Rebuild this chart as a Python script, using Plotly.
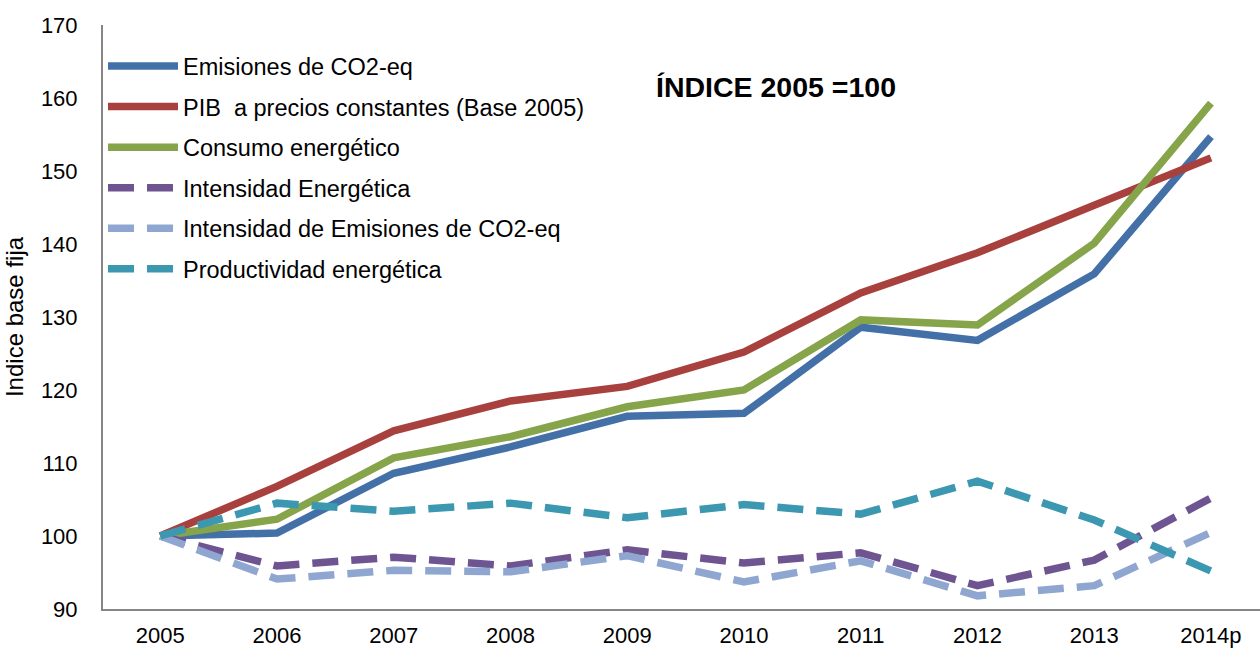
import plotly.graph_objects as go

years = ["2005", "2006", "2007", "2008", "2009", "2010", "2011", "2012", "2013", "2014p"]

emisiones = [100, 100.4, 108.6, 112.2, 116.4, 116.8, 128.6, 126.8, 135.9, 154.7]
pib = [100, 106.8, 114.4, 118.5, 120.5, 125.2, 133.3, 138.8, 145.3, 151.8]
consumo = [100, 102.3, 110.7, 113.6, 117.7, 120.0, 129.6, 128.9, 140.1, 159.3]
intensidad_energetica = [100, 95.9, 97.1, 95.9, 98.1, 96.3, 97.7, 93.2, 96.7, 105.2]
intensidad_emisiones = [100, 94.1, 95.3, 95.1, 97.3, 93.7, 96.6, 91.8, 93.2, 100.5]
productividad = [100, 104.5, 103.4, 104.5, 102.5, 104.3, 103.0, 107.5, 102.2, 95.2]

series = [
    ("Emisiones de CO2-eq", emisiones, "#4470A8", "solid"),
    ("PIB  a precios constantes (Base 2005)", pib, "#A8413E", "solid"),
    ("Consumo energético", consumo, "#86A44A", "solid"),
    ("Intensidad Energética", intensidad_energetica, "#6E5591", "26px,13px"),
    ("Intensidad de Emisiones de CO2-eq", intensidad_emisiones, "#8FA7D0", "26px,13px"),
    ("Productividad energética", productividad, "#3C97B0", "26px,13px"),
]

fig = go.Figure()
for i, (name, vals, color, dash) in enumerate(series):
    fig.add_trace(go.Scatter(
        x=years, y=vals, name=name, mode="lines", legendgroup=str(i),
        line=dict(color=color, width=7.5, dash=dash),
    ))

fig.update_layout(
    width=1260, height=650,
    margin=dict(l=103, r=0, t=25, b=41),
    plot_bgcolor="white", paper_bgcolor="white",
    font=dict(family="Liberation Sans, Arial, sans-serif", size=22, color="black"),
    showlegend=True,
    legend=dict(
        x=0.0, y=0.967, xanchor="left", yanchor="top",
        font=dict(size=23.5), bgcolor="rgba(0,0,0,0)",
        tracegroupgap=7, itemwidth=70,
    ),
    annotations=[dict(
        text="<b>ÍNDICE 2005 =100</b>", x=0.476, y=0.893, xref="paper", yref="paper",
        xanchor="left", yanchor="middle", showarrow=False,
        font=dict(family="Liberation Sans, Arial", size=28.5),
    )],
)
fig.update_xaxes(
    type="category", range=[-0.49, 9.42], showgrid=False, automargin=False,
    showline=True, linecolor="#868686", linewidth=2,
    ticks="", ticklabelstandoff=6,
)
fig.update_yaxes(
    range=[90, 170], dtick=10, showgrid=False, zeroline=False, automargin=False,
    showline=True, linecolor="#868686", linewidth=2,
    ticks="", ticklabelstandoff=19,
    title=dict(text="Indice base fija", standoff=10, font=dict(size=24)),
)

fig.write_html("out.html", config={"displayModeBar": False},
               post_script="document.body.style.margin='0px';")
